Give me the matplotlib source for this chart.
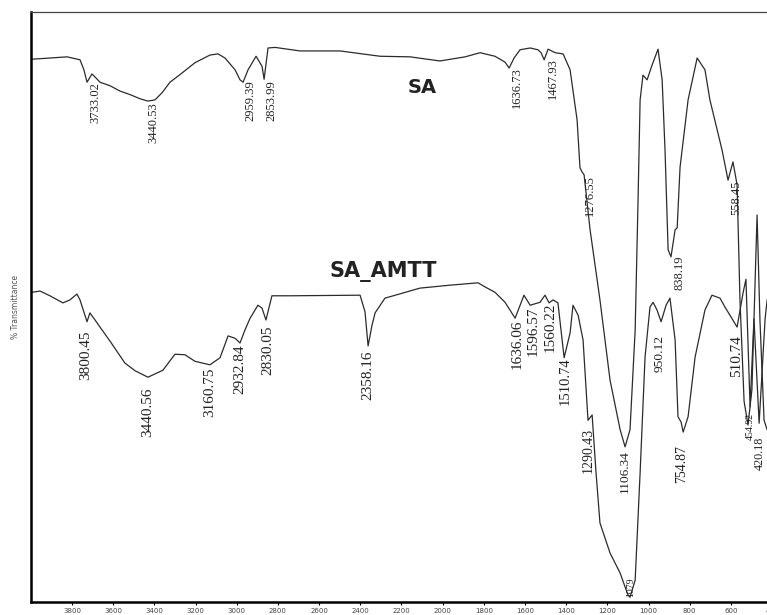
import matplotlib
matplotlib.use("Agg")
import matplotlib.pyplot as plt

# ---- data (wavenumber cm-1, % transmittance, arbitrary offset scale) ----
sa_wn = [3994, 3907, 3824, 3761, 3742, 3727, 3703, 3683, 3664, 3615, 3567, 3518, 3470,
         3431, 3397, 3363, 3324, 3275, 3203, 3130, 3091, 3057, 3008, 2984, 2969, 2945,
         2906, 2877, 2867, 2848, 2814, 2693,
         2498, 2304, 2158, 2013, 1891, 1818, 1746, 1697, 1677, 1653, 1624, 1575, 1537,
         1522, 1507, 1488, 1454, 1415, 1381, 1347, 1333, 1323, 1313, 1284, 1236, 1187,
         1138, 1114, 1090, 1065, 1051, 1041, 1027, 1007, 983, 954, 934, 920, 905, 891,
         871, 861, 847, 808, 764, 726, 702, 643, 614, 590, 570, 556, 536, 517, 498, 473,
         459, 439, 424]
sa_t = [92.0, 92.2, 92.4, 91.9, 90.2, 88.1, 89.5, 88.8, 88.1, 87.5, 86.6, 86.0, 85.3,
        84.9, 85.1, 86.3, 88.1, 89.4, 91.4, 92.7, 92.9, 92.2, 90.2, 88.5, 88.1, 90.2,
        92.5, 90.8, 88.6, 93.9, 94.0, 93.4,
        93.4, 92.5, 92.4, 91.7, 92.4, 93.1, 92.5, 91.5, 90.5, 92.2, 93.6, 93.9, 93.6,
        93.1, 91.9, 93.7, 93.1, 92.9, 90.2, 81.7, 73.6, 72.9, 72.4, 63.1, 51.2, 37.6,
        29.2, 26.3, 29.2, 46.1, 68.1, 85.1, 89.3, 88.5, 91.0, 93.7, 88.5, 76.6, 59.7, 58.5,
        63.1, 63.4, 73.7, 85.1, 92.2, 90.2, 85.1, 76.6, 71.5, 74.6, 70.7, 51.2, 34.0, 30.0,
        36.0, 65.6, 47.8, 30.8, 29.2]

amtt_wn = [3994, 3955, 3907, 3844, 3810, 3776, 3761, 3727, 3713, 3688, 3664, 3615, 3543,
           3494, 3431, 3358, 3300, 3251, 3203, 3130, 3081, 3042, 3008, 2984, 2960, 2935,
           2897, 2877, 2858, 2829, 2741, 2401, 2377, 2362, 2343, 2328, 2280, 2110, 1964,
           1828, 1794, 1746, 1697, 1648, 1605, 1575, 1527, 1503, 1483, 1464, 1440, 1410,
           1381, 1367, 1342, 1318, 1294, 1274, 1255, 1236, 1187, 1138, 1100, 1090, 1065,
           1041, 1017, 993, 978, 959, 939, 915, 896, 871, 857, 842, 832, 808, 774, 726,
           692, 653, 629, 570, 541, 527, 507, 488, 463, 434, 424]
amtt_t = [52.5, 52.7, 51.9, 50.7, 51.2, 52.2, 51.2, 47.5, 49.0, 47.8, 46.6, 44.2, 40.5,
          39.2, 38.1, 39.3, 42.0, 41.9, 40.8, 40.2, 41.4, 45.1, 44.7, 43.9, 46.1, 48.1,
          50.3, 49.8, 47.8, 51.9, 51.9, 52.0, 49.2, 43.4, 46.9, 49.0, 51.5, 53.2, 53.7,
          54.1, 53.4, 52.5, 50.8, 48.1, 52.0, 50.3, 50.8, 52.0, 50.7, 51.2, 50.7, 41.4,
          45.6, 50.3, 48.6, 44.4, 30.8, 31.7, 21.9, 13.4, 8.3, 4.9, 1.2, 0.8, 3.7,
          21.9, 41.5, 50.0, 50.8, 49.5, 47.5, 50.3, 51.5, 44.4, 31.4, 30.5, 28.8, 31.4,
          41.5, 49.5, 52.0, 51.5, 50.0, 46.6, 52.4, 54.7, 33.1, 48.0, 30.3, 48.0, 51.2]

sa_peak_labels = ["3733.02", "3440.53", "2959.39", "2853.99", "1636.73", "1467.93",
                  "1276.55", "838.19", "558.45"]
sa_peak_x = [3688, 3407, 2935, 2829, 1639, 1464, 1284, 852, 575]
sa_peak_y = [88.1, 84.7, 88.5, 88.5, 90.7, 92.2, 72.4, 58.8, 71.5]

amtt_peak_labels = ["3800.45", "3440.56", "3160.75", "2932.84", "2830.05", "2358.16",
                    "1636.06", "1596.57", "1560.22", "1510.74", "1290.43", "1106.34",
                    "1079", "950.12", "754.87", "510.74", "454.92", "420.18"]
amtt_peak_x = [3732, 3431, 3130, 2984, 2848, 2362, 1639, 1561, 1478, 1406, 1294, 1114,
               1085, 944, 837, 575, 507, 458]
amtt_peak_y = [46.1, 36.4, 39.7, 43.6, 46.9, 42.7, 47.8, 50.0, 50.7, 41.4, 29.5, 25.8,
               4.1, 45.3, 26.6, 45.3, 32.0, 28.0]
amtt_peak_sizes = [11, 11, 11, 11, 11, 11, 11, 11, 11, 10.5, 10, 9.5, 7, 9.7, 10, 11, 7, 8.7]

xticks = [3800, 3600, 3400, 3200, 3000, 2800, 2600, 2400, 2200, 2000, 1800, 1600,
          1400, 1200, 1000, 800, 600, 400]

# ---- figure ----
W, H = 767, 615
fig = plt.figure(figsize=(W / 100, H / 100), dpi=100)
ax = fig.add_axes([30.8 / W, 13 / H, 741.3 / W, 590 / H])

line_color = "#2b2b2b"
ax.plot(sa_wn, sa_t, color=line_color, lw=0.9)
ax.plot(amtt_wn, amtt_t, color=line_color, lw=0.9)

ax.set_xlim(4000, 400)
ax.set_ylim(0, 100)

serif = "Liberation Serif"
for lab, x, y in zip(sa_peak_labels, sa_peak_x, sa_peak_y):
    ax.text(x, y, lab, rotation=90, ha="center", va="top", fontsize=9,
            family=serif, color="#222222")
for lab, x, y, s in zip(amtt_peak_labels, amtt_peak_x, amtt_peak_y, amtt_peak_sizes):
    ax.text(x, y, lab, rotation=90, ha="center", va="top", fontsize=s,
            family=serif, color="#222222")

ax.text(2100, 87.2, "SA", fontsize=14, fontweight="bold", family="DejaVu Sans",
        ha="center", va="center", color="#222222")
ax.text(2290, 56.0, "SA_AMTT", fontsize=15, fontweight="bold", family="DejaVu Sans",
        ha="center", va="center", color="#222222")

ax.set_ylabel("% Transmittance", fontsize=5.5, color="#555555", labelpad=8)
ax.set_yticks([])
ax.set_xticks(xticks)
ax.set_xticklabels([str(t) for t in xticks], fontsize=5, color="#444444")
ax.tick_params(axis="x", direction="out", length=2.5, width=0.8, pad=1.5)

for s in ["left", "bottom"]:
    ax.spines[s].set_linewidth(1.8)
    ax.spines[s].set_color("black")
ax.spines["top"].set_linewidth(0.9)
ax.spines["top"].set_color("#444444")
ax.spines["right"].set_visible(False)

fig.savefig("out.png", dpi=100)
